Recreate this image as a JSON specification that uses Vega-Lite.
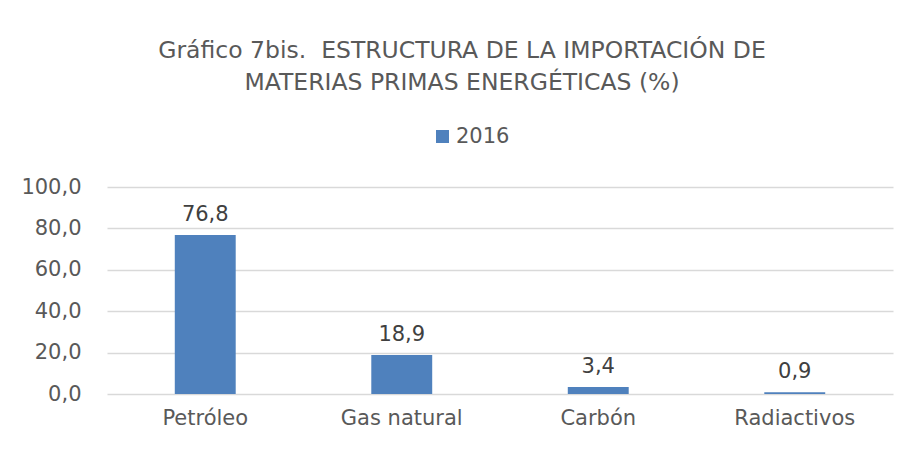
{
  "$schema": "https://vega.github.io/schema/vega-lite/v6.json",
  "width": 786,
  "height": 207,
  "autosize": "none",
  "padding": {"left": 107, "top": 187, "right": 21, "bottom": 56},
  "background": "white",
  "config": {
    "locale": {"number": {"decimal": ",", "thousands": ".", "grouping": [3], "currency": ["", " €"]}},
    "view": {"stroke": null},
    "font": "DejaVu Sans"
  },
  "title": {
    "text": ["Gráfico 7bis.\u00a0 ESTRUCTURA DE LA IMPORTACIÓN DE", "MATERIAS PRIMAS ENERGÉTICAS (%)"],
    "anchor": "middle",
    "frame": "group",
    "dx": -38,
    "offset": 8,
    "baseline": "bottom",
    "fontSize": 23.5,
    "fontWeight": "normal",
    "color": "#595959",
    "lineHeight": 32,
    "font": "DejaVu Sans"
  },
  "data": {
    "values": [
      {"categoria": "Petróleo", "valor": 76.8, "serie": "2016"},
      {"categoria": "Gas natural", "valor": 18.9, "serie": "2016"},
      {"categoria": "Carbón", "valor": 3.4, "serie": "2016"},
      {"categoria": "Radiactivos", "valor": 0.9, "serie": "2016"}
    ]
  },
  "encoding": {
    "x": {
      "field": "categoria",
      "type": "nominal",
      "sort": null,
      "scale": {"paddingInner": 0.69, "paddingOuter": 0.345},
      "axis": {
        "title": null,
        "labelAngle": 0,
        "domain": false,
        "ticks": false,
        "labelFontSize": 21,
        "labelColor": "#595959",
        "labelPadding": 13
      }
    },
    "y": {
      "field": "valor",
      "type": "quantitative",
      "scale": {"domain": [0, 100]},
      "axis": {
        "title": null,
        "values": [0, 20, 40, 60, 80, 100],
        "format": ".1f",
        "domain": false,
        "ticks": false,
        "gridColor": "#d9d9d9",
        "gridWidth": 1.5,
        "labelFontSize": 21,
        "labelColor": "#595959",
        "labelPadding": 26
      }
    }
  },
  "layer": [
    {
      "mark": {"type": "bar", "color": "#4F81BD"},
      "encoding": {
        "color": {
          "field": "serie",
          "type": "nominal",
          "scale": {"range": ["#4F81BD"]},
          "legend": {
            "title": null,
            "orient": "none",
            "legendX": 325,
            "legendY": -61,
            "symbolType": "square",
            "symbolSize": 170,
            "symbolStrokeWidth": 0,
            "labelFontSize": 21,
            "labelColor": "#595959",
            "labelOffset": 3
          }
        }
      }
    },
    {
      "mark": {"type": "text", "baseline": "bottom", "dy": -10, "fontSize": 21, "color": "#404040"},
      "encoding": {
        "text": {"field": "valor", "type": "quantitative", "format": ".1f"}
      }
    }
  ]
}
